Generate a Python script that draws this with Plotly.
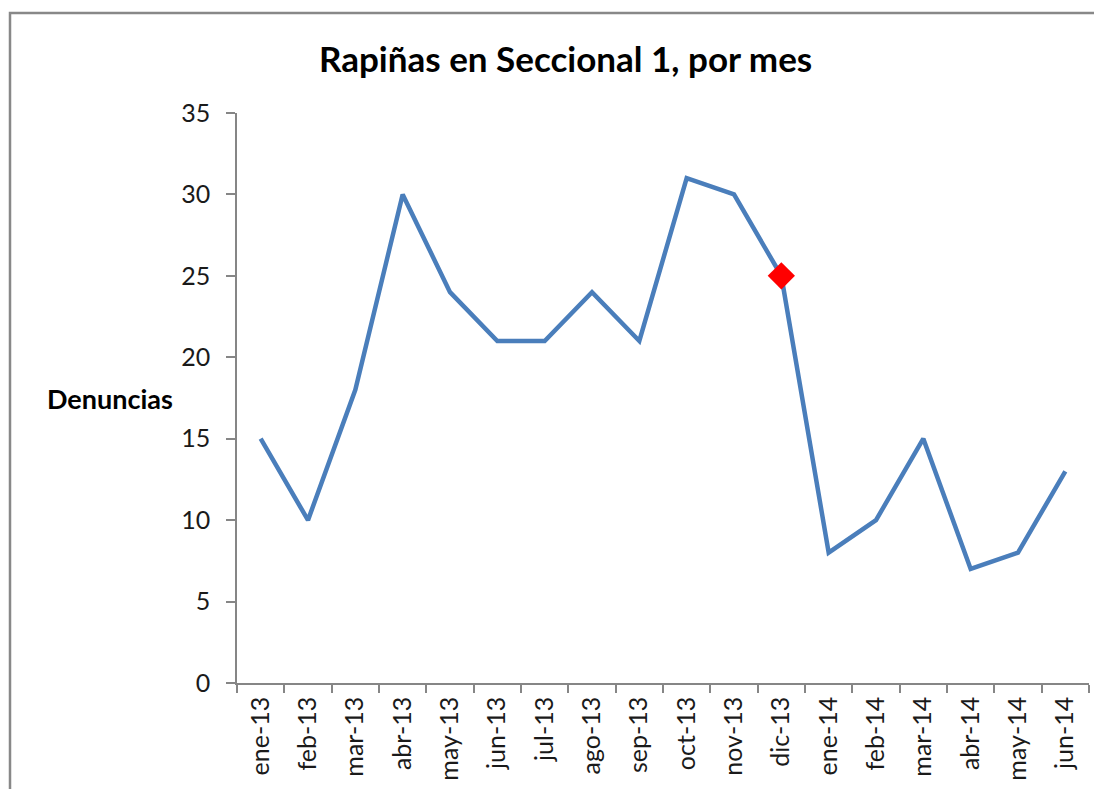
import plotly.graph_objects as go

# monthly robbery reports, Seccional 1
months = ["ene-13", "feb-13", "mar-13", "abr-13", "may-13", "jun-13",
          "jul-13", "ago-13", "sep-13", "oct-13", "nov-13", "dic-13",
          "ene-14", "feb-14", "mar-14", "abr-14", "may-14", "jun-14"]
denuncias = [15, 10, 18, 30, 24, 21, 21, 24, 21, 31, 30, 25, 8, 10, 15, 7, 8, 13]

# highlighted month
mark_month = ["dic-13"]
mark_value = [25]

y_ticks = [0, 5, 10, 15, 20, 25, 30, 35]

W, H = 1102, 789
OFF = 8  # page body margin shifts the figure
L, R, T, B = 237 - OFF, 13 + OFF, 113 - OFF, 106 + OFF
pw, ph = W - L - R, H - T - B


def px_x(x):
    return (x - OFF - L) / pw


def px_y(y):
    return (H - B - (y - OFF)) / ph


fig = go.Figure()
fig.add_trace(go.Scatter(x=months, y=denuncias, mode="lines",
                         line=dict(color="#4A7EBB", width=4.5), hoverinfo="x+y"))
fig.add_trace(go.Scatter(x=mark_month, y=mark_value, mode="markers",
                         marker=dict(symbol="diamond", size=21, color="#FF0000",
                                     line=dict(width=0))))

axis_font = dict(family="Lato, Calibri, sans-serif", size=25, color="#1a1a1a")

fig.update_layout(
    width=W, height=H,
    margin=dict(l=L, r=R, t=T, b=B),
    paper_bgcolor="white", plot_bgcolor="white",
    showlegend=False,
    font=dict(family="Lato, Calibri, sans-serif"),
    xaxis=dict(type="category", range=[-0.5, len(months) - 0.5],
               tickson="boundaries", ticks="outside", ticklen=8,
               tickcolor="#868686", tickwidth=1.5,
               showline=True, linecolor="#868686", linewidth=1.5,
               showgrid=False, tickangle=-90, tickfont=axis_font, zeroline=False,
               ticklabelstandoff=2),
    yaxis=dict(range=[0, 35], tickvals=y_ticks, ticks="outside", ticklen=9,
               tickcolor="#868686", tickwidth=1.5,
               showline=True, linecolor="#868686", linewidth=1.5,
               showgrid=False, zeroline=False, tickfont=axis_font,
               ticklabelstandoff=11),
)

# chart title and axis title
fig.add_annotation(text="<b>Rapiñas en Seccional 1, por mes</b>",
                   xref="paper", yref="paper",
                   x=px_x(565), y=px_y(58),
                   showarrow=False, xanchor="center", yanchor="middle",
                   font=dict(family="Lato, Calibri, sans-serif", size=35, color="#000000"))
fig.add_annotation(text="<b>Denuncias</b>",
                   xref="paper", yref="paper",
                   x=px_x(110), y=px_y(398),
                   showarrow=False, xanchor="center", yanchor="middle",
                   font=dict(family="Lato, Calibri, sans-serif", size=27, color="#000000"))

# outer chart frame (right and bottom edges fall outside the picture)
fig.add_shape(type="rect", xref="paper", yref="paper",
              x0=px_x(10), x1=px_x(W + 30),
              y0=px_y(H + 30), y1=px_y(13),
              line=dict(color="#888888", width=2.5), fillcolor="rgba(0,0,0,0)",
              layer="above")

fig.write_html("out.html")
